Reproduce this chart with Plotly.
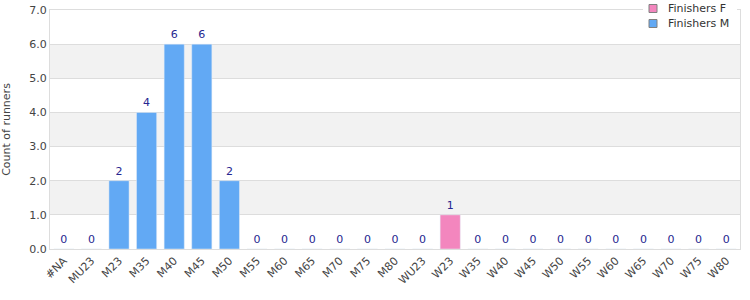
import plotly.graph_objects as go

categories = ["#NA", "MU23", "M23", "M35", "M40", "M45", "M50", "M55", "M60", "M65",
              "M70", "M75", "M80", "WU23", "W23", "W35", "W40", "W45", "W50", "W55",
              "W60", "W65", "W70", "W75", "W80"]
finishers_m = [0, 0, 2, 4, 6, 6, 2, 0, 0, 0, 0, 0, 0, None, None, None, None, None, None,
               None, None, None, None, None, None]
finishers_f = [None] * 13 + [0, 1, 0, 0, 0, 0, 0, 0, 0, 0, 0, 0]
y_ticks = [0, 1, 2, 3, 4, 5, 6, 7]
series_names = ["Finishers F", "Finishers M"]
series_colors = ["#F386BE", "#62A9F4"]

# plot-area geometry in pixels (used only for the custom legend placement)
L, R, T, B = 50, 740, 10, 249
W, H = R - L, B - T
def px(x):
    return (x - L) / W
def py(y):
    return (B - y) / H

label_color = "#262690"
fig = go.Figure()
for name, color, vals in zip(series_names, series_colors, [finishers_f, finishers_m]):
    fig.add_trace(go.Bar(
        x=categories, y=vals, name=name,
        marker=dict(color=color),
        text=[("" if v is None else str(v)) for v in vals],
        textposition="outside", textfont=dict(color=label_color, size=11),
        cliponaxis=False, showlegend=False,
    ))

shapes = []
for lo in (1, 3, 5):
    shapes.append(dict(type="rect", xref="paper", yref="y", x0=0, x1=1, y0=lo, y1=lo + 1,
                       fillcolor="#F2F2F2", line=dict(width=0), layer="below"))
# custom legend
shapes.append(dict(type="rect", xref="paper", yref="paper", x0=px(643), x1=px(737),
                   y0=py(30), y1=py(-1), fillcolor="white", line=dict(width=0), layer="above"))
annotations = []
for i, (name, color) in enumerate(zip(series_names, series_colors)):
    cy = 8.5 + 15 * i
    shapes.append(dict(type="rect", xref="paper", yref="paper", x0=px(649), x1=px(657),
                       y0=py(cy + 4), y1=py(cy - 4), fillcolor=color,
                       line=dict(color="#808080", width=1), layer="above"))
    annotations.append(dict(xref="paper", yref="paper", x=px(666), y=py(cy), text=name,
                            showarrow=False, xanchor="left", yanchor="middle",
                            font=dict(size=11, color="#333")))

fig.update_layout(
    width=750, height=300,
    margin=dict(l=L, r=750 - R, t=T, b=300 - B, autoexpand=False),
    barmode="overlay",
    bargap=0.27,
    plot_bgcolor="white", paper_bgcolor="white",
    font=dict(family="DejaVu Sans", size=11, color="#444"),
    shapes=shapes, annotations=annotations,
    showlegend=False,
    xaxis=dict(type="category", tickangle=-45, showgrid=False,
               showline=True, linecolor="#DDDDDD", mirror=True,
               tickfont=dict(size=11, color="#444"), ticks=""),
    yaxis=dict(range=[0, 7], tickvals=y_ticks, tickformat=".1f",
               showgrid=True, gridcolor="#DDDDDD", zeroline=False,
               showline=True, linecolor="#DDDDDD", mirror=True,
               tickfont=dict(size=11, color="#444"),
               title=dict(text="Count of runners", font=dict(size=11, color="#444"), standoff=16)),
)

fig.write_html("out.html")
